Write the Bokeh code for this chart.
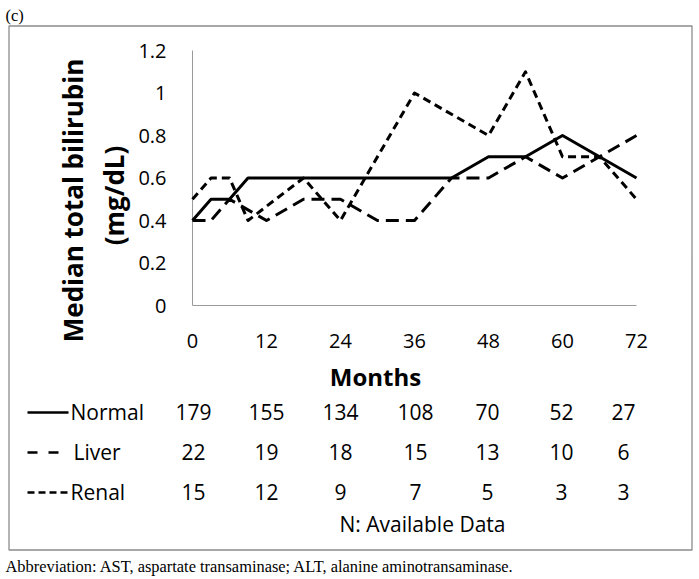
from bokeh.plotting import figure
from bokeh.models import Range1d
from bokeh.core.properties import value
from bokeh.embed import file_html
from bokeh.resources import INLINE

# ---- data ----
months_normal = [0, 3, 6, 9, 42, 48, 54, 60, 72]
bili_normal = [0.4, 0.5, 0.5, 0.6, 0.6, 0.7, 0.7, 0.8, 0.6]

months_liver = [0, 3, 6, 12, 18, 24, 30, 36, 42, 48, 54, 60, 72]
bili_liver = [0.4, 0.4, 0.5, 0.4, 0.5, 0.5, 0.4, 0.4, 0.6, 0.6, 0.7, 0.6, 0.8]

months_renal = [0, 3, 6, 9, 18, 24, 36, 48, 54, 60, 66, 72]
bili_renal = [0.5, 0.6, 0.6, 0.4, 0.6, 0.4, 1.0, 0.8, 1.1, 0.7, 0.7, 0.5]

month_ticks = [0, 12, 24, 36, 48, 60, 72]
bili_ticks = [0, 0.2, 0.4, 0.6, 0.8, 1.0, 1.2]

table_months = [0, 12, 24, 36, 48, 60, 72]
n_normal = [179, 155, 134, 108, 70, 52, 27]
n_liver = [22, 19, 18, 15, 13, 10, 6]
n_renal = [15, 12, 9, 7, 5, 3, 3]
group_names = ["Normal", "Liver", "Renal"]

# ---- layout (page pixels) ----
W, H = 699, 579
FL, FR, FT, FB = 192, 636, 50, 305     # plotting area of the chart
X0, X1 = month_ticks[0], month_ticks[-1]
Y0, Y1 = bili_ticks[0], bili_ticks[-1]


def X(px):
    return X0 + (px - FL) * (X1 - X0) / (FR - FL)


def Y(py):
    return Y0 + (FB - py) * (Y1 - Y0) / (FB - FT)


SANS = "Open Sans"
SERIF = "Liberation Serif"
AXIS_GRAY = "#9a9a9a"
BOX_GRAY = "#8c8c8c"

p = figure(width=W, height=H, x_range=Range1d(X(0), X(W)), y_range=Range1d(Y(H), Y(0)),
           output_backend="svg", toolbar_location=None,
           x_axis_location=None, y_axis_location=None,
           min_border=0, min_border_left=0, min_border_right=0,
           min_border_top=0, min_border_bottom=0)
p.grid.visible = False
p.outline_line_color = None
p.background_fill_color = "white"
p.border_fill_color = "white"

# outer frame box
p.quad(left=[X(8.5)], right=[X(691.5)], top=[Y(25.5)], bottom=[Y(549.5)],
       fill_alpha=0, line_color=BOX_GRAY, line_width=1.3)

# axis lines (from the tick extents)
p.segment(x0=[X0, X0], y0=[Y0, Y0], x1=[X1, X0], y1=[Y0, Y1],
          line_color=AXIS_GRAY, line_width=1)

# tick labels
p.text(x=month_ticks, y=[Y(340)] * len(month_ticks), text=[str(m) for m in month_ticks],
       text_font=value(SANS), text_font_size=value("20px"), text_color="black",
       text_align="center", text_baseline="middle")
p.text(x=[X(166)] * len(bili_ticks), y=bili_ticks, text=[f"{v:g}" for v in bili_ticks],
       text_font=value(SANS), text_font_size=value("20px"), text_color="black",
       text_align="right", text_baseline="middle")

# series
styles = {"Normal": "solid", "Liver": "13 7", "Renal": "8 5"}
p.line(months_normal, bili_normal, line_color="black", line_width=3, line_join="round",
       line_dash=styles["Normal"])
p.line(months_liver, bili_liver, line_color="black", line_width=3, line_join="round",
       line_dash=styles["Liver"])
p.line(months_renal, bili_renal, line_color="black", line_width=3, line_join="round",
       line_dash=styles["Renal"])

# axis titles
p.text(x=[X(72)], y=[Y(200)], text=["Median total bilirubin"], angle=1.5707963,
       text_font=value(SANS), text_font_style="bold", text_font_size=value("26px"),
       text_color="black", text_align="center", text_baseline="middle")
p.text(x=[X(113)], y=[Y(195)], text=["(mg/dL)"], angle=1.5707963,
       text_font=value(SANS), text_font_style="bold", text_font_size=value("26px"),
       text_color="black", text_align="center", text_baseline="middle")
p.text(x=[X(375)], y=[Y(376)], text=["Months"],
       text_font=value(SANS), text_font_style="bold", text_font_size="24px",
       text_color="black", text_align="center", text_baseline="middle")

# table of available data
row_y = [411, 451, 491]
label_x = [70, 73, 70]
sample_dash = ["solid", "10 11", "7 4"]
for name, ry, lx, dsh in zip(group_names, row_y, label_x, sample_dash):
    p.line(x=[X(27), X(68)], y=[Y(ry + 1), Y(ry + 1)], line_color="black",
           line_width=2.5, line_dash=dsh)
    p.text(x=[X(lx)], y=[Y(ry)], text=[name], text_font=value(SANS),
           text_font_size=value("21px"), text_color="black",
           text_align="left", text_baseline="middle")

col_offsets = [1, 0, 0, 1, -1, -1, -13]
for counts, ry in zip([n_normal, n_liver, n_renal], row_y):
    p.text(x=table_months, y=[Y(ry)] * len(counts), text=[str(c) for c in counts],
           x_offset=col_offsets, text_font=value(SANS), text_font_size=value("21px"),
           text_color="black", text_align="center", text_baseline="middle")

p.text(x=[X(422)], y=[Y(523)], text=["N: Available Data"], text_font=value(SANS),
       text_font_size=value("21px"), text_color="black",
       text_align="center", text_baseline="middle")

# panel tag and footnote
p.text(x=[X(5)], y=[Y(15)], text=["(c)"], text_font=value(SERIF),
       text_font_size=value("16.5px"), text_color="black",
       text_align="left", text_baseline="middle")
p.text(x=[X(5)], y=[Y(566)],
       text=["Abbreviation: AST, aspartate transaminase; ALT, alanine aminotransaminase."],
       text_font=value(SERIF), text_font_size=value("16.4px"), text_color="black",
       text_align="left", text_baseline="middle")

open("out.html", "w").write(file_html(p, INLINE))
